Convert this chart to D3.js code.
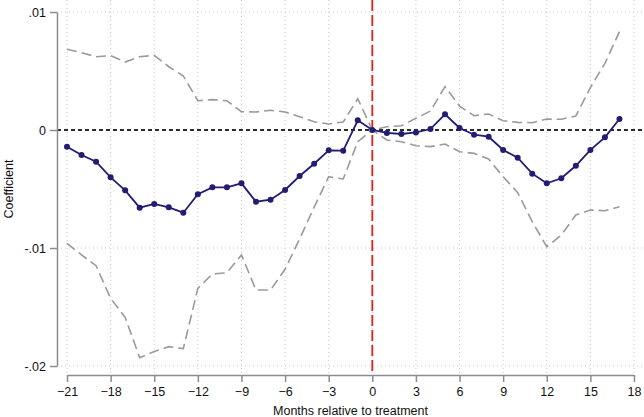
<!DOCTYPE html>
<html>
<head>
<meta charset="utf-8">
<script src="https://cdn.jsdelivr.net/npm/d3@7"></script>
<style>
  html, body { margin: 0; padding: 0; background: #fff; }
  svg { display: block; font-family: "Liberation Sans", Arial, sans-serif; }
</style>
</head>
<body>
<svg id="chart" width="644" height="417"></svg>
<script>
// Event-study coefficients with confidence band

const months = [-21, -20, -19, -18, -17, -16, -15, -14, -13, -12, -11, -10, -9, -8, -7, -6, -5, -4, -3, -2, -1,
    0, 1, 2, 3, 4, 5, 6, 7, 8, 9, 10, 11, 12, 13, 14, 15, 16, 17];

const coef = [-0.00142, -0.00212, -0.00269, -0.00401, -0.00511, -0.00658, -0.00627, -0.00655, -0.00701,
    -0.00545, -0.00486, -0.00486, -0.00452, -0.00608, -0.00591, -0.00508, -0.00390, -0.00286, -0.00172,
    -0.00175, 0.00082, 0, -0.00025, -0.00034, -0.00021, 0.00008, 0.00133, 0.00017, -0.00040, -0.00057,
    -0.00169, -0.00235, -0.00370, -0.00452, -0.00409, -0.00303, -0.00169, -0.00062, 0.00093];

const upper = [0.00684, 0.00655, 0.00621, 0.00630, 0.00576, 0.00621, 0.00633, 0.00536, 0.00458,
    0.00248, 0.00257, 0.00248, 0.00155, 0.00153, 0.00167, 0.00153, 0.00113, 0.00070, 0.00051,
    0.00068, 0.00265, 0, 0.00028, 0.00036, 0.00099, 0.00161, 0.00367, 0.00203, 0.00121, 0.00136,
    0.00079, 0.00065, 0.00062, 0.00093, 0.00091, 0.00119, 0.00359, 0.00565, 0.00833];

const lower = [-0.00960, -0.01059, -0.01150, -0.01427, -0.01588, -0.01930, -0.01878, -0.01836, -0.01853,
    -0.01342, -0.01220, -0.01210, -0.01059, -0.01356, -0.01356, -0.01180, -0.00924, -0.00653, -0.00396,
    -0.00415, -0.00099, 0, -0.00085, -0.00099, -0.00133, -0.00141, -0.00119, -0.00184, -0.00198, -0.00246,
    -0.00396, -0.00531, -0.00777, -0.00989, -0.00890, -0.00720, -0.00678, -0.00684, -0.00650];

const xTicks = [-21, -18, -15, -12, -9, -6, -3, 0, 3, 6, 9, 12, 15, 18];
const yTicks = [0.01, 0, -0.01, -0.02];
const yTickLabels = ['.01', '0', '-.01', '-.02'];

const svg = d3.select('#chart');

const x = d3.scaleLinear().domain([-21, 18]).range([67, 634]);
const y = d3.scaleLinear().domain([-0.02, 0.01]).range([366, 12]);

const PLOT = { left: 57, right: 644, top: 0, bottom: 375 };

// Grid lines (dotted)
const grid = svg.append('g').attr('stroke', '#c8c8c8').attr('stroke-width', 1)
    .attr('stroke-dasharray', '1,3');

grid.selectAll('line.v')
    .data(xTicks)
    .join('line')
    .attr('class', 'v')
    .attr('x1', d => x(d)).attr('x2', d => x(d))
    .attr('y1', PLOT.top).attr('y2', PLOT.bottom);

grid.selectAll('line.h')
    .data(yTicks.filter(d => d !== 0))
    .join('line')
    .attr('class', 'h')
    .attr('x1', PLOT.left).attr('x2', PLOT.right)
    .attr('y1', d => y(d)).attr('y2', d => y(d));

// Zero reference line
svg.append('line')
    .attr('x1', PLOT.left).attr('x2', PLOT.right)
    .attr('y1', y(0)).attr('y2', y(0))
    .attr('stroke', '#2b2b2b')
    .attr('stroke-width', 2)
    .attr('stroke-dasharray', '4,3');

// Treatment line
svg.append('line')
    .attr('x1', x(0)).attr('x2', x(0))
    .attr('y1', PLOT.top).attr('y2', PLOT.bottom)
    .attr('stroke', '#e3201b')
    .attr('stroke-width', 1.8)
    .attr('stroke-dasharray', '11,4');

// Confidence bounds
const line = d3.line()
    .x((d, i) => x(months[i]))
    .y(d => y(d));

[upper, lower].forEach(series => {
    svg.append('path')
        .datum(series)
        .attr('d', line)
        .attr('fill', 'none')
        .attr('stroke', '#9a9a9a')
        .attr('stroke-width', 1.6)
        .attr('stroke-dasharray', '10,5');
});

// Coefficients
const NAVY = '#221c72';

svg.append('path')
    .datum(coef)
    .attr('d', line)
    .attr('fill', 'none')
    .attr('stroke', NAVY)
    .attr('stroke-width', 1.8);

svg.append('g')
    .selectAll('circle')
    .data(coef)
    .join('circle')
    .attr('cx', (d, i) => x(months[i]))
    .attr('cy', d => y(d))
    .attr('r', 3)
    .attr('fill', NAVY);

// Axes
const yAxis = d3.axisLeft(y)
    .tickValues(yTicks)
    .tickFormat((d, i) => yTickLabels[i])
    .tickSize(7)
    .tickSizeOuter(0)
    .tickPadding(4);

svg.append('g')
    .attr('transform', `translate(${PLOT.left},0)`)
    .call(yAxis)
    .call(g => g.select('.domain').attr('stroke', '#8c8c8c').attr('stroke-width', 1.5))
    .call(g => g.selectAll('.tick line').attr('stroke', '#8c8c8c').attr('stroke-width', 1.5))
    .call(g => g.selectAll('text').attr('font-size', '12.5px').attr('fill', '#111')
        .attr('font-family', '"Liberation Sans", Arial, sans-serif'));

const xAxis = d3.axisBottom(x)
    .tickValues(xTicks)
    .tickFormat(d3.format('d'))
    .tickSize(7)
    .tickSizeOuter(0)
    .tickPadding(5);

svg.append('g')
    .attr('transform', `translate(0,${PLOT.bottom})`)
    .call(xAxis)
    .call(g => g.select('.domain').attr('stroke', '#8c8c8c').attr('stroke-width', 1.5))
    .call(g => g.selectAll('.tick line').attr('stroke', '#8c8c8c').attr('stroke-width', 1.5))
    .call(g => g.selectAll('text').attr('font-size', '12.5px').attr('fill', '#111')
        .attr('font-family', '"Liberation Sans", Arial, sans-serif'));

// Axis titles
svg.append('text')
    .attr('x', (x(-21) + x(18)) / 2)
    .attr('y', 415)
    .attr('text-anchor', 'middle')
    .attr('font-size', '12.5px')
    .attr('fill', '#111')
    .text('Months relative to treatment');

svg.append('text')
    .attr('transform', `translate(13,${(y(0.01) + y(-0.02)) / 2}) rotate(-90)`)
    .attr('text-anchor', 'middle')
    .attr('font-size', '12.5px')
    .attr('fill', '#111')
    .text('Coefficient');
</script>
</body>
</html>
